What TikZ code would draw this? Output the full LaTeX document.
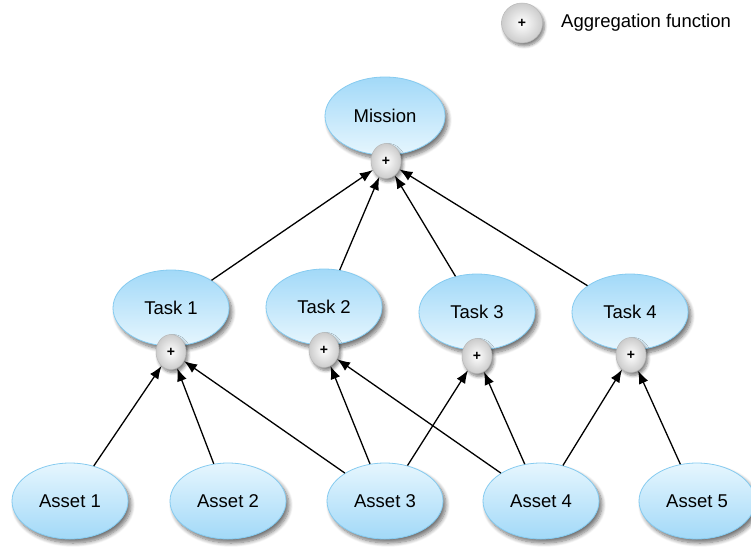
\documentclass[tikz,border=0pt]{standalone}
\usepackage{fontspec}
\setmainfont{Liberation Sans}
\usetikzlibrary{shapes.geometric,arrows.meta,shadows.blur}
\definecolor{ebord}{HTML}{86CBF0}
\definecolor{eblue}{HTML}{A2D9F8}
\definecolor{elight}{HTML}{E6F6FE}
\tikzset{
  base/.style={ellipse, draw=ebord, line width=0.8pt, minimum width=116pt, minimum height=76pt, inner sep=0pt,
    font=\fontsize{18.5}{20}\selectfont,
    blur shadow={shadow xshift=3pt, shadow yshift=-4pt, shadow blur steps=8, shadow opacity=55, shadow blur radius=4pt}},
  upper/.style={base, top color=eblue, bottom color=elight},
  lower/.style={base, top color=elight, bottom color=eblue},
  agg/.style={ellipse, draw=gray!55, line width=0.5pt, shading=radial, inner color=white, outer color=gray!40,
    minimum width=30pt, minimum height=35pt, inner sep=0pt, font=\bfseries\fontsize{14}{14}\selectfont,
    blur shadow={shadow xshift=2pt, shadow yshift=-3pt, shadow blur steps=6, shadow opacity=50, shadow blur radius=3pt}},
  arr/.style={-{Latex[length=13pt,width=10pt]}, line width=1.3pt}
}
\begin{document}
\begin{tikzpicture}[x=1pt,y=-1pt]
\useasboundingbox (0,0) rectangle (751,546);
% legend
\node[agg, minimum width=41pt, minimum height=40pt] (lg) at (522,23) {+};
\node[anchor=west, font=\fontsize{18.5}{20}\selectfont, inner sep=0pt] (lgt) at (561,23) {Aggregation function};
% mission
\node[upper, minimum width=120pt, minimum height=78pt] (m) at (385,116) {Mission};
\node[agg] (mp) at (386,161) {+};
% tasks
\node[upper] (t1) at (171,308) {Task 1};
\node[agg] (p1) at (171,352) {+};
\node[upper] (t2) at (324,307) {Task 2};
\node[agg] (p2) at (324,350) {+};
\node[upper] (t3) at (477,312) {Task 3};
\node[agg] (p3) at (477,356) {+};
\node[upper] (t4) at (630,312) {Task 4};
\node[agg] (p4) at (631,355) {+};
% assets
\node[lower] (a1) at (70,501) {Asset 1};
\node[lower] (a2) at (228,501) {Asset 2};
\node[lower] (a3) at (385,501) {Asset 3};
\node[lower] (a4) at (541,501) {Asset 4};
\node[lower] (a5) at (697,501) {Asset 5};
% connectors
\draw[arr] (t1) -- (mp);
\draw[arr] (t2) -- (mp);
\draw[arr] (t3) -- (mp);
\draw[arr] (t4) -- (mp);
\draw[arr] (a1) -- (p1);
\draw[arr] (a2) -- (p1);
\draw[arr] (a3) -- (p1);
\draw[arr] (a3) -- (p2);
\draw[arr] (a3) -- (p3);
\draw[arr] (a4) -- (p2);
\draw[arr] (a4) -- (p3);
\draw[arr] (a4) -- (p4);
\draw[arr] (a5) -- (p4);
\end{tikzpicture}
\end{document}
